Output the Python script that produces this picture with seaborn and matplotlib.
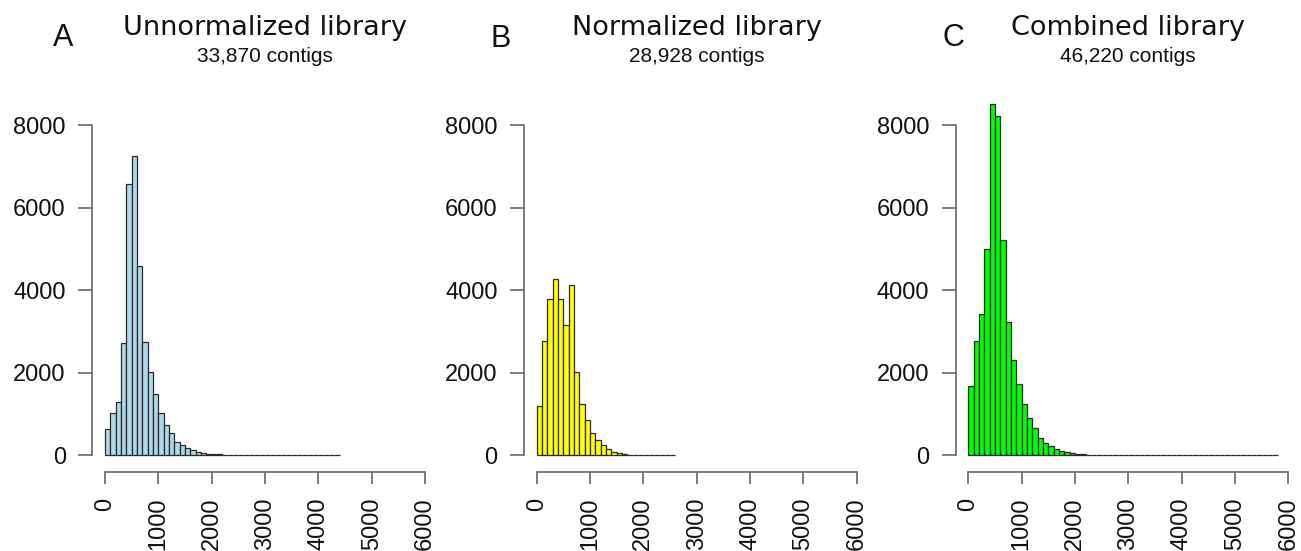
import numpy as np
import pandas as pd
import matplotlib
matplotlib.use("Agg")
import matplotlib.pyplot as plt
import seaborn as sns

# ---- data (contig length histograms, bin width 100 bp) ----
bin_width = 100
counts_unnorm = [646, 1026, 1293, 2723, 6578, 7257, 4590, 2731, 2020, 1479,
                 1026, 743, 541, 323, 259, 178, 121, 81, 48, 32,
                 25, 20, 16, 13, 11, 9, 8, 7, 6, 5,
                 5, 4, 4, 3, 3, 3, 2, 2, 2, 2,
                 2, 1, 1, 1]
counts_norm = [1185, 2766, 3774, 4274, 3774, 3161, 4121, 2008, 1234, 855,
               532, 379, 258, 161, 89, 48, 24, 15, 10, 7,
               5, 3, 2, 2, 1, 1]
counts_comb = [1681, 2764, 3418, 4994, 8509, 8218, 5220, 3232, 2295, 1729,
               1244, 889, 663, 428, 299, 226, 154, 105, 73, 48,
               32, 22, 15, 10, 8, 6, 5, 4, 3, 3,
               2, 2, 2, 1, 1, 1, 1, 1, 1, 1,
               1, 1, 1, 1, 1, 0, 0, 0, 0, 0,
               0, 0, 0, 0, 0, 0, 0, 1]
titles = ["Unnormalized library", "Normalized library", "Combined library"]
subtitles = ["33,870 contigs", "28,928 contigs", "46,220 contigs"]
letters = ["A", "B", "C"]
colors = ["#ADD8E6", "#FFFF00", "#00FF00"]
x_ticks = [0, 1000, 2000, 3000, 4000, 5000, 6000]
y_ticks = [0, 2000, 4000, 6000, 8000]

sns.set_theme(style="white")
plt.rcParams["font.family"] = ["Liberation Sans", "DejaVu Sans"]

W, H = 1301, 551
fig = plt.figure(figsize=(W / 100, H / 100), dpi=100)

zero_px = [105.0, 536.7, 968.3]      # pixel x of data x=0 for each panel
letter_px = [(63, 38), (501, 39), (953, 38)]
ax_w_px = 345.6
ax_top_px, ax_bot_px = 111.8, 471.7

for i, counts in enumerate([counts_unnorm, counts_norm, counts_comb]):
    left = zero_px[i] - 12.8
    ax = fig.add_axes([left / W, 1 - ax_bot_px / H, ax_w_px / W,
                       (ax_bot_px - ax_top_px) / H])
    n = len(counts)
    edges = [float(k * bin_width) for k in range(n + 1)]
    centers = [e + bin_width / 2 for e in edges[:-1]]
    df = pd.DataFrame({"length": centers, "count": counts})
    sns.histplot(data=df, x="length", weights="count", bins=edges,
                 color=colors[i], edgecolor="#2a2a2a", linewidth=0.9,
                 alpha=1, ax=ax)
    for p in ax.patches:
        p.set_clip_on(False)
    ax.set_xlim(-240, 6240)
    ax.set_ylim(-400, 8320)
    ax.set_xlabel("")
    ax.set_ylabel("")
    for s in ["top", "right"]:
        ax.spines[s].set_visible(False)
    ax.spines["left"].set_bounds(0, 8000)
    ax.spines["bottom"].set_bounds(0, 6000)
    for s in ["left", "bottom"]:
        ax.spines[s].set_color("#666666")
        ax.spines[s].set_linewidth(1.2)
    ax.set_xticks(x_ticks)
    ax.set_xticklabels([str(t) for t in x_ticks], rotation=90, va="top", ha="center")
    ax.set_yticks(y_ticks)
    ax.set_yticklabels([str(t) for t in y_ticks])
    ax.tick_params(axis="y", direction="out", length=10, width=1.2, color="#666666",
                   pad=9, labelsize=17, labelcolor="#111111", left=True)
    ax.tick_params(axis="x", direction="out", length=8.6, width=1.2, color="#666666",
                   pad=10, labelsize=17, labelcolor="#111111", bottom=True)
    ax.grid(False)

    cx = zero_px[i] + 160
    fig.text(cx / W, 1 - 35 / H, titles[i], ha="center", va="baseline",
             fontsize=19.5, family=["DejaVu Sans"], color="#111111")
    fig.text(cx / W, 1 - 62 / H, subtitles[i], ha="center", va="baseline",
             fontsize=15, color="#111111")
    lx, ly = letter_px[i]
    fig.text(lx / W, 1 - ly / H, letters[i], ha="center", va="center",
             fontsize=22, color="#111111")

fig.savefig("out.png", dpi=100)
